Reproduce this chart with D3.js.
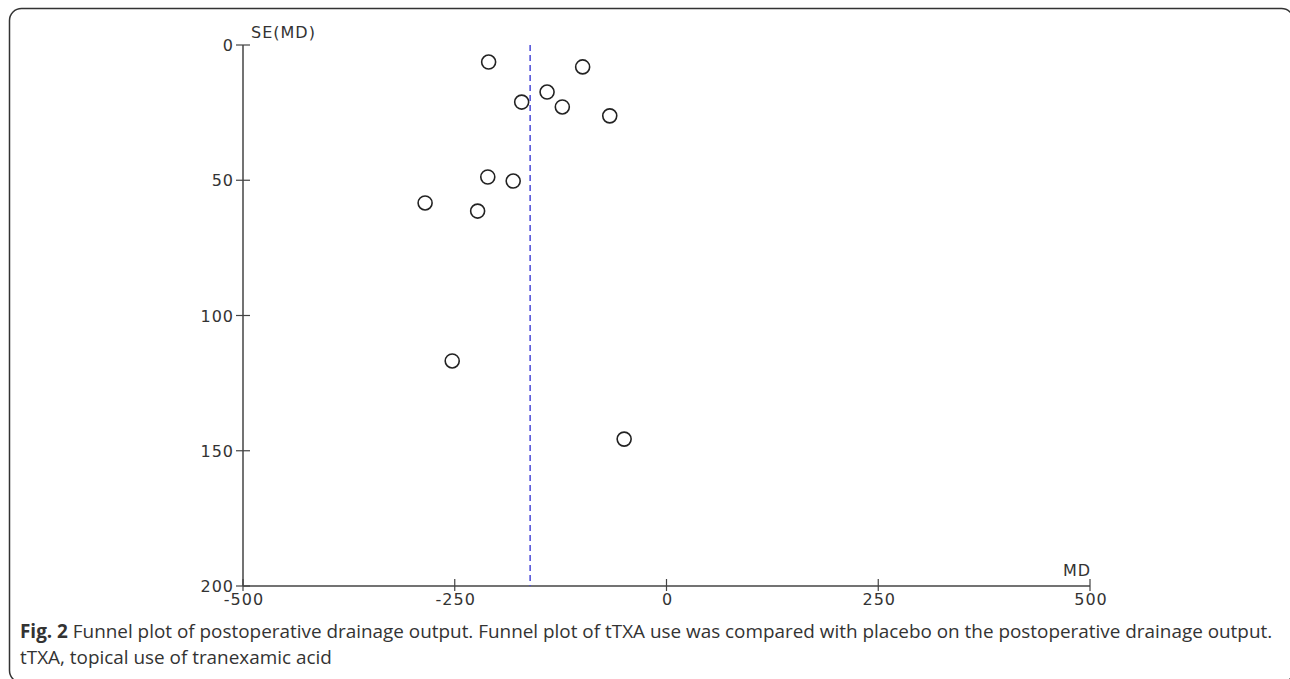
<!DOCTYPE html>
<html>
<head>
<meta charset="utf-8">
<script src="https://cdn.jsdelivr.net/npm/d3@7"></script>
<style>
  body { margin: 0; background: #fff; }
  svg { display: block; }
  .tick-label { font-family: "DejaVu Sans", sans-serif; font-size: 16px; letter-spacing: 1px; fill: #333; }
  .caption { font-family: "Open Sans", sans-serif; font-size: 18.9px; fill: #333; }
</style>
</head>
<body>
<svg id="chart" width="1290" height="679"></svg>
<script>
// study estimates
const md = [-210, -99, -141, -171, -123, -67, -211, -181, -285, -223, -253, -50];
const seMd = [6.3, 8.1, 17.4, 21.1, 22.9, 26.2, 48.8, 50.3, 58.4, 61.4, 116.8, 145.7];
const pooledMd = -161;
const xTicks = [-500, -250, 0, 250, 500];
const yTicks = [0, 50, 100, 150, 200];

const svg = d3.select("#chart");

// outer frame
svg.append("rect")
    .attr("x", 9.5)
    .attr("y", 8.5)
    .attr("width", 1284)
    .attr("height", 674)
    .attr("rx", 12)
    .attr("ry", 12)
    .attr("fill", "none")
    .attr("stroke", "#333")
    .attr("stroke-width", 1.5);

const x = d3.scaleLinear().domain([-500, 500]).range([243, 1090]);
const y = d3.scaleLinear().domain([0, 200]).range([45, 586]);

const axisColor = "#444";

// y axis
svg.append("line")
    .attr("x1", x(-500)).attr("x2", x(-500))
    .attr("y1", y(0)).attr("y2", y(200))
    .attr("stroke", axisColor).attr("stroke-width", 1.5);

yTicks.forEach(t => {
    svg.append("line")
        .attr("x1", x(-500) - 7).attr("x2", x(-500) + 7)
        .attr("y1", y(t)).attr("y2", y(t))
        .attr("stroke", axisColor).attr("stroke-width", 1.2);
    svg.append("text")
        .attr("class", "tick-label")
        .attr("x", x(-500) - 9)
        .attr("y", y(t) + 6)
        .style("text-anchor", "end")
        .text(t);
});

// x axis
svg.append("line")
    .attr("x1", x(-500)).attr("x2", x(500))
    .attr("y1", y(200)).attr("y2", y(200))
    .attr("stroke", axisColor).attr("stroke-width", 1.5);

xTicks.forEach(t => {
    svg.append("line")
        .attr("x1", x(t)).attr("x2", x(t))
        .attr("y1", y(200) - 7).attr("y2", y(200) + 5)
        .attr("stroke", axisColor).attr("stroke-width", 1.2);
    svg.append("text")
        .attr("class", "tick-label")
        .attr("x", x(t) + 1)
        .attr("y", y(200) + 19)
        .style("text-anchor", "middle")
        .text(t === 0 ? "0" : (t < 0 ? "-" + Math.abs(t) : t));
});

// axis titles
svg.append("text")
    .attr("class", "tick-label")
    .attr("x", x(-500) + 8)
    .attr("y", 38)
    .text("SE(MD)");

svg.append("text")
    .attr("class", "tick-label")
    .attr("x", x(500) + 1)
    .attr("y", y(200) - 10)
    .style("text-anchor", "end")
    .text("MD");

// pooled estimate
svg.append("line")
    .attr("x1", x(pooledMd)).attr("x2", x(pooledMd))
    .attr("y1", y(0)).attr("y2", y(200))
    .attr("stroke", "#4a4ad8")
    .attr("stroke-width", 1.5)
    .attr("stroke-dasharray", "6,4");

// studies
svg.selectAll("circle.study")
    .data(md.map((d, i) => ({ md: d, se: seMd[i] })))
    .enter()
    .append("circle")
    .attr("class", "study")
    .attr("cx", d => x(d.md))
    .attr("cy", d => y(d.se))
    .attr("r", 7)
    .attr("fill", "none")
    .attr("stroke", "#222")
    .attr("stroke-width", 1.6);

// caption
const cap1 = svg.append("text")
    .attr("class", "caption")
    .attr("x", 20)
    .attr("y", 638);
cap1.append("tspan").style("font-weight", "bold").text("Fig. 2");
cap1.append("tspan").text(" Funnel plot of postoperative drainage output. Funnel plot of tTXA use was compared with placebo on the postoperative drainage output.");

svg.append("text")
    .attr("class", "caption")
    .attr("x", 20)
    .attr("y", 664)
    .text("tTXA, topical use of tranexamic acid");
</script>
</body>
</html>
